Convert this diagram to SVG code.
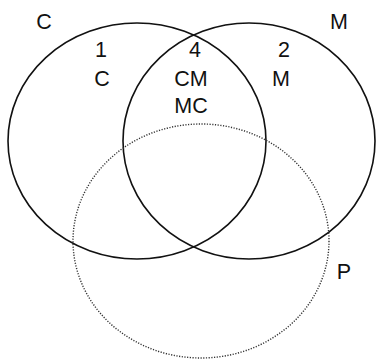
<svg xmlns="http://www.w3.org/2000/svg" width="377" height="359" viewBox="0 0 377 359">
<style>
.s{fill:none;stroke:#111;stroke-width:1.6}
.d{fill:none;stroke:#333;stroke-width:1.4;stroke-dasharray:1.2 1.5}
text{font-family:"Liberation Sans",Arial,sans-serif;font-size:21.5px;fill:#111;text-anchor:middle}
</style>
<rect width="377" height="359" fill="#fff"/>
<g id="circle-C"><ellipse class="s" cx="137" cy="141" rx="129" ry="118"/></g>
<g id="circle-M"><ellipse class="s" cx="249" cy="141" rx="126" ry="118"/></g>
<g id="circle-P"><ellipse class="d" cx="201" cy="241" rx="128" ry="117"/></g>
<g id="labels">
<text x="44" y="29">C</text>
<text x="339" y="29">M</text>
<text x="344" y="279">P</text>
<text x="101" y="57">1</text>
<text x="102" y="86">C</text>
<text x="195" y="57">4</text>
<text x="191" y="86">CM</text>
<text x="191" y="113">MC</text>
<text x="284" y="57">2</text>
<text x="281" y="86">M</text>
</g>
</svg>
